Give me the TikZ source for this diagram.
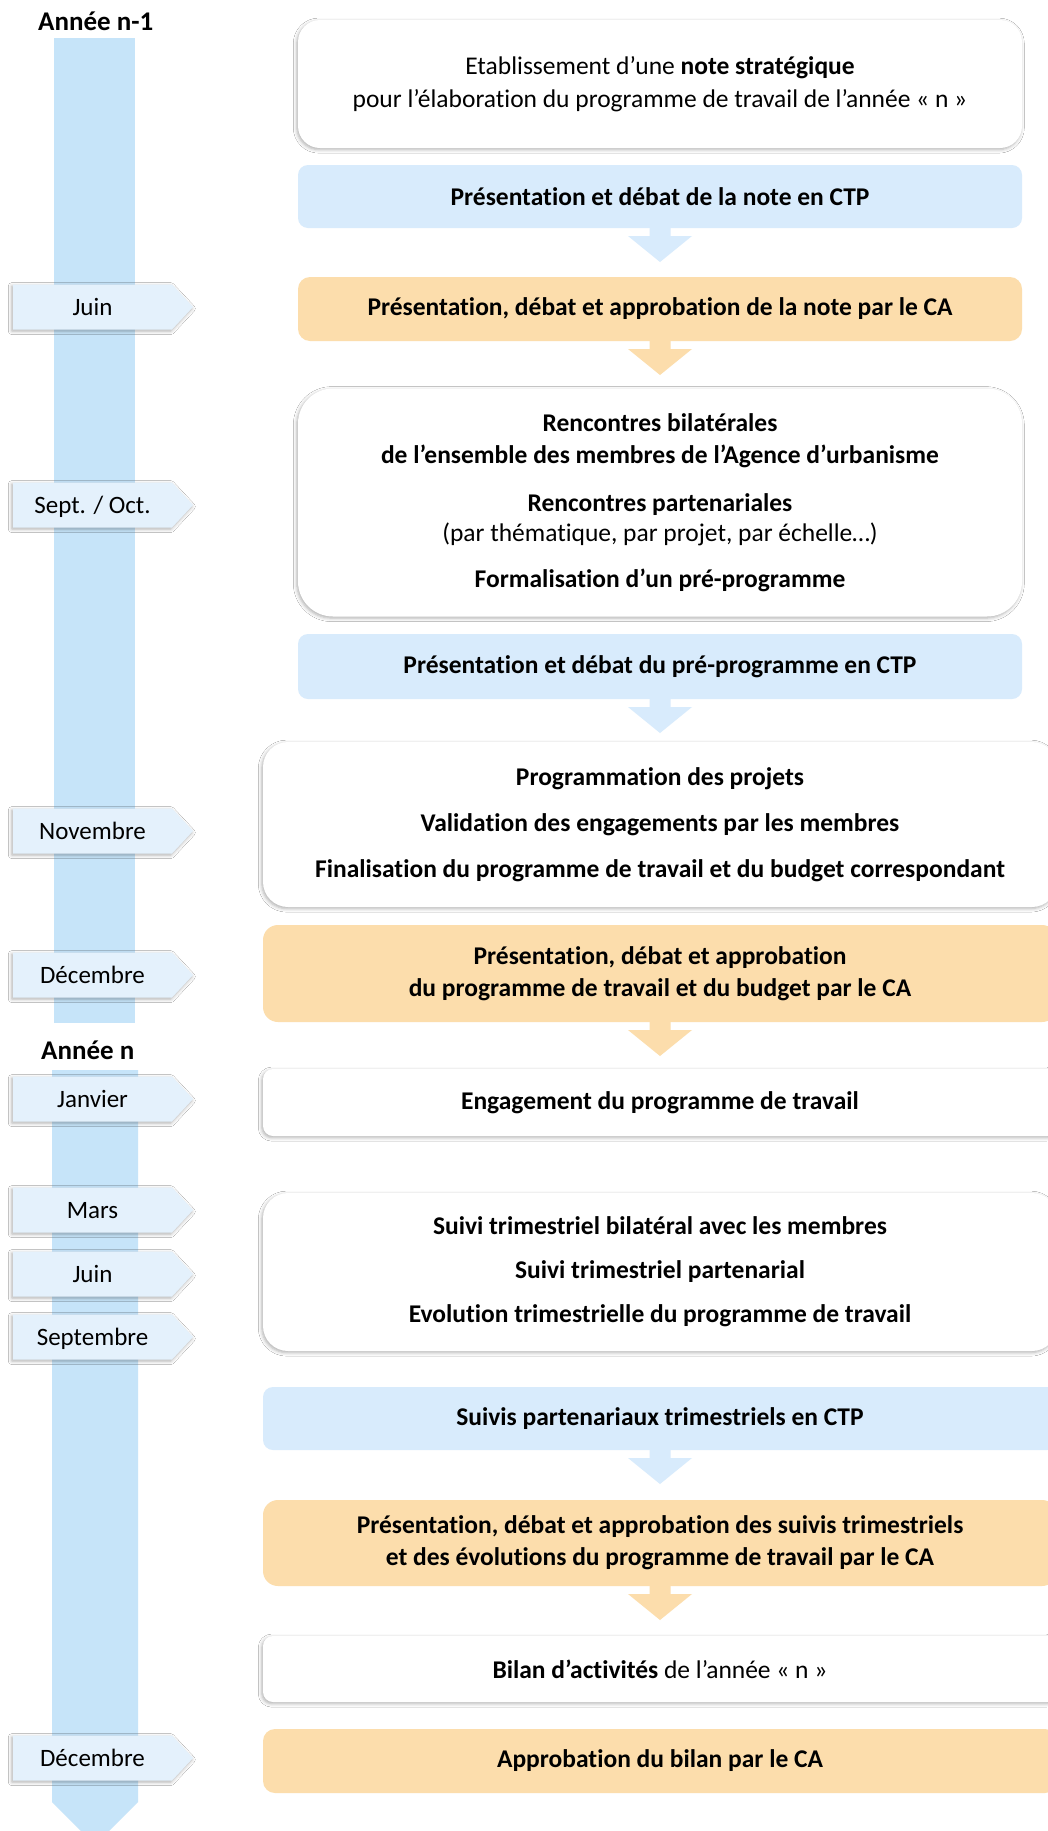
\documentclass[tikz,border=0pt]{standalone}
\usepackage{fontspec}
\setmainfont[Ligatures=NoCommon]{Carlito}
\usetikzlibrary{calc,shadows.blur}
\definecolor{barC}{RGB}{198,228,249}
\definecolor{lblC}{RGB}{228,241,252}
\definecolor{blueC}{RGB}{216,235,252}
\definecolor{orC}{RGB}{252,221,172}
\tikzset{
 shd/.style={blur shadow={shadow xshift=-1.2pt,shadow yshift=-1.6pt,shadow blur radius=3.5pt,shadow opacity=32}},
 boxbase/.style={inner sep=0pt, outer sep=0pt, align=center, text=black},
 whitebox/.style={boxbase, fill=white, shd, font=\fontsize{25.5}{32}\selectfont\bfseries},
 bluebox/.style={boxbase, fill=blueC, rounded corners=10pt, font=\fontsize{25.5}{32}\selectfont\bfseries},
 orbox/.style={boxbase, fill=orC, rounded corners=12pt, font=\fontsize{25.5}{32}\selectfont\bfseries},
 upper/.style={minimum width=724pt},
 lower/.style={minimum width=794pt},
 hdr/.style={font=\fontsize{27}{32}\selectfont\bfseries, inner sep=0pt, anchor=west},
 mtext/.style={font=\fontsize{25}{30}\selectfont, inner sep=0pt, text height=16pt, text depth=0pt},
}
\newcommand\mlab[3]{%
 \fill[lblC, shd] (13,#2-22.5) -- (172,#2-22.5) -- (193,#2) -- (172,#2+22.5) -- (13,#2+22.5) -- cycle;
 \node[mtext] (#1) at (92.5,#2) {#3};}
\newcommand\flowarrow[2]{%
 \fill[#2] ($(#1.south)+(-10.5,0)$) -- ++(21,0) -- ++(0,8) -- ++(21.5,0) -- ++(-32,26) -- ++(-32,-26) -- ++(21.5,0) -- cycle;}
\begin{document}
\begin{tikzpicture}[x=1pt,y=-1pt]
\useasboundingbox (0,0) rectangle (1048,1831);
\clip (0,0) rectangle (1048,1831);
\fill[white] (0,0) rectangle (1048,1831);
% timeline bars
\fill[barC] (54,38) rectangle (135,1023);
\fill[barC] (52,1070) -- (138,1070) -- (138,1802) -- (95,1845) -- (52,1802) -- cycle;
\node[hdr] (h1) at (38,21) {Année n-1};
\node[hdr] (h2) at (41,1050) {Année n};
% month labels
\mlab{m1}{307}{Juin}
\mlab{m2}{505}{Sept. / Oct.}
\mlab{m3}{831}{Novembre}
\mlab{m4}{975}{Décembre}
\mlab{m5}{1099}{Janvier}
\mlab{m6}{1210}{Mars}
\mlab{m7}{1274}{Juin}
\mlab{m8}{1337}{Septembre}
\mlab{m9}{1758}{Décembre}
% boxes
\node[whitebox, upper, minimum height=128pt, rounded corners=22pt] (b1) at (660,84)
 {\mdseries Etablissement d’une \textbf{note stratégique}\\[1pt]\mdseries pour l’élaboration du programme de travail de l’année « n »};
\node[bluebox, upper, minimum height=63pt] (b2) at (660,196.5) {Présentation et débat de la note en CTP};
\node[orbox, upper, minimum height=64pt] (b3) at (660,309) {Présentation, débat et approbation de la note par le CA};
\node[whitebox, upper, minimum height=228pt, rounded corners=35pt] (b4) at (660,502.5)
 {Rencontres bilatérales\\ de l’ensemble des membres de l’Agence d’urbanisme\\[16pt]
  Rencontres partenariales\\[-2pt] \mdseries(par thématique, par projet, par échelle…)\\[14pt]
  Formalisation d’un pré-programme};
\node[bluebox, upper, minimum height=65pt] (b5) at (660,666.5) {Présentation et débat du pré-programme en CTP};
\node[whitebox, lower, minimum height=165pt, rounded corners=25pt] (b6) at (660,824.5)
 {Programmation des projets\\[14pt] Validation des engagements par les membres\\[14pt] Finalisation du programme de travail et du budget correspondant};
\node[orbox, lower, minimum height=97pt, rounded corners=15pt] (b7) at (660,973.5)
 {Présentation, débat et approbation\\ du programme de travail et du budget par le CA};
\node[whitebox, lower, minimum height=67pt, rounded corners=10pt] (b8) at (660,1102.5) {Engagement du programme de travail};
\node[whitebox, lower, minimum height=158pt, rounded corners=25pt] (b9) at (660,1272)
 {Suivi trimestriel bilatéral avec les membres\\[12pt] Suivi trimestriel partenarial\\[12pt] Evolution trimestrielle du programme de travail};
\node[bluebox, lower, minimum height=63pt] (b10) at (660,1418.5) {Suivis partenariaux trimestriels en CTP};
\node[orbox, lower, minimum height=86pt, rounded corners=15pt] (b11) at (660,1543)
 {Présentation, débat et approbation des suivis trimestriels\\ et des évolutions du programme de travail par le CA};
\node[whitebox, lower, minimum height=66pt, rounded corners=10pt] (b12) at (660,1669)
 {Bilan d’activités \mdseries de l’année « n »};
\node[orbox, lower, minimum height=64pt] (b13) at (660,1761) {Approbation du bilan par le CA};
% arrows
\flowarrow{b2}{blueC}
\flowarrow{b3}{orC}
\flowarrow{b5}{blueC}
\flowarrow{b7}{orC}
\flowarrow{b10}{blueC}
\flowarrow{b11}{orC}
\end{tikzpicture}
\end{document}
